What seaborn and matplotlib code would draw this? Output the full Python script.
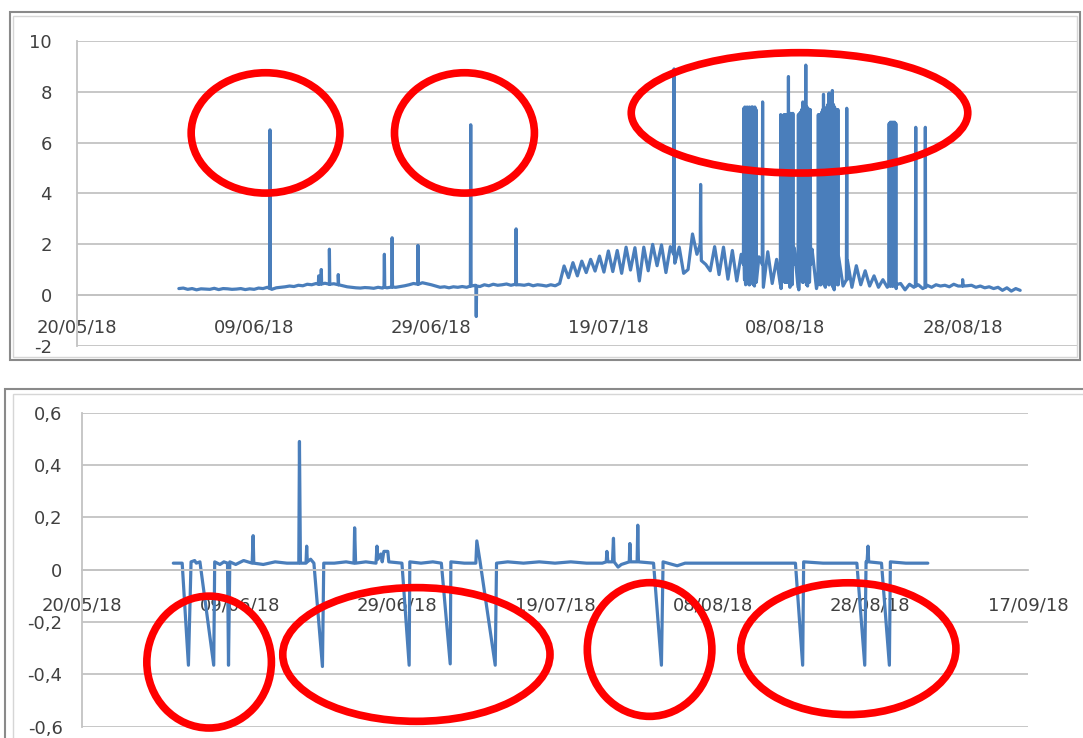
import pandas as pd
import matplotlib.pyplot as plt
import matplotlib.dates as mdates
from matplotlib.patches import Ellipse, Rectangle
import seaborn as sns

# ---- top chart: readings every 12 h, starting 31/05/18 12:00 ----
top_start = "2018-05-31 12:00"
top_jun = [0.25,
           0.27, 0.22, 0.25, 0.20, 0.24, 0.23, 0.22, 0.26, 0.21, 0.25,   # 01-05/06
           0.24, 0.22, 0.23, 0.25, 0.21, 0.24, 0.22, 0.27, 0.25, 0.30,   # 06-10/06
           0.22, 0.28, 0.30, 0.32, 0.35, 0.33, 0.38, 0.36, 0.42, 0.40,   # 11-15/06
           0.45, 0.43, 0.46, 0.42, 0.44, 0.40, 0.36, 0.32, 0.30, 0.28,   # 16-20/06
           0.27, 0.29, 0.28, 0.26, 0.30, 0.27, 0.28, 0.31, 0.30, 0.33,   # 21-25/06
           0.36, 0.40, 0.45, 0.42, 0.48, 0.44, 0.40, 0.35, 0.30, 0.32]   # 26-30/06
top_jul = [0.28, 0.32, 0.30, 0.33, 0.30, 0.35, 0.38, 0.33, 0.40, 0.36,   # 01-05/07
           0.42, 0.38, 0.40, 0.43, 0.38, 0.42, 0.40, 0.38, 0.42, 0.36,   # 06-10/07
           0.40, 0.38, 0.35, 0.40, 0.36, 0.45, 1.14, 0.68, 1.27, 0.75,   # 11-15/07
           1.33, 0.88, 1.40, 0.94, 1.53, 0.90, 1.73, 0.92, 1.75, 0.85,   # 16-20/07
           1.88, 0.98, 1.86, 0.55, 1.88, 0.95, 1.99, 1.15, 1.97, 0.88,   # 21-25/07
           1.90, 1.25, 1.88, 0.85, 1.00, 2.40, 1.60, 1.35, 1.20, 0.95,   # 26-30/07
           1.90, 0.80]                                                   # 31/07
top_aug = [1.88, 0.62, 1.75, 0.55, 1.60, 0.40, 1.30, 0.35, 1.50, 0.30,   # 01-05/08
           1.70, 0.45, 1.40, 0.25, 1.95, 0.30, 1.85, 0.20, 1.90, 0.35,   # 06-10/08
           1.80, 0.25, 1.75, 0.30, 1.60, 0.20, 1.50, 0.35, 1.35, 0.30,   # 11-15/08
           1.15, 0.40, 0.95, 0.35, 0.75, 0.30, 0.60, 0.30, 0.50, 0.25,   # 16-20/08
           0.45, 0.20, 0.42, 0.30, 0.40, 0.25, 0.38, 0.30, 0.40, 0.35,   # 21-25/08
           0.38, 0.32, 0.42, 0.35, 0.40, 0.36, 0.38, 0.30, 0.35, 0.28,   # 26-30/08
           0.32, 0.25]                                                   # 31/08
top_sep = [0.30, 0.18, 0.28, 0.15, 0.25, 0.18]                           # 01-03/09

# short peaks between the 12 h readings: time, peak value, value around it
peak_times = ["2018-06-10 19:00", "2018-06-16 07:00", "2018-06-16 14:00", "2018-06-17 12:00",
              "2018-06-18 12:00", "2018-06-23 17:00", "2018-06-24 14:00", "2018-06-27 12:00",
              "2018-07-03 11:00", "2018-07-04 02:00", "2018-07-08 14:00", "2018-07-26 10:00",
              "2018-07-29 10:00",
              # 03-05/08
              "2018-08-03 07:00", "2018-08-03 10:00", "2018-08-03 13:00", "2018-08-03 16:00",
              "2018-08-03 19:00", "2018-08-03 22:00", "2018-08-04 01:00", "2018-08-04 04:00",
              "2018-08-04 07:00", "2018-08-04 10:00", "2018-08-04 13:00", "2018-08-04 16:00",
              "2018-08-05 10:00",
              # 07-08/08
              "2018-08-07 11:00", "2018-08-07 14:00", "2018-08-07 17:00", "2018-08-07 20:00",
              "2018-08-07 23:00", "2018-08-08 02:00", "2018-08-08 05:00", "2018-08-08 08:00",
              "2018-08-08 11:00", "2018-08-08 14:00", "2018-08-08 17:00", "2018-08-08 20:00",
              # 09-10/08
              "2018-08-09 11:00", "2018-08-09 14:00", "2018-08-09 17:00", "2018-08-09 20:00",
              "2018-08-09 23:00", "2018-08-10 02:00", "2018-08-10 07:00", "2018-08-10 10:00",
              "2018-08-10 13:00", "2018-08-10 16:00", "2018-08-10 19:00",
              # 11-14/08
              "2018-08-11 17:00", "2018-08-11 20:00", "2018-08-11 23:00", "2018-08-12 02:00",
              "2018-08-12 05:00", "2018-08-12 07:00", "2018-08-12 10:00", "2018-08-12 13:00",
              "2018-08-12 16:00", "2018-08-12 19:00", "2018-08-12 22:00", "2018-08-13 01:00",
              "2018-08-13 04:00", "2018-08-13 07:00", "2018-08-13 10:00", "2018-08-13 13:00",
              "2018-08-13 16:00", "2018-08-13 19:00", "2018-08-13 22:00", "2018-08-14 22:00",
              # 19-28/08
              "2018-08-19 17:00", "2018-08-19 20:00", "2018-08-19 23:00", "2018-08-20 02:00",
              "2018-08-20 05:00", "2018-08-20 08:00", "2018-08-20 11:00",
              "2018-08-22 17:00", "2018-08-23 19:00", "2018-08-28 00:00"]
peak_vals = [6.5, 0.75, 1.0, 1.8,
             0.8, 1.6, 2.25, 1.95,
             6.7, -0.85, 2.6, 8.9,
             4.35,
             7.35, 7.40, 7.35, 7.40,
             7.35, 7.40, 7.35, 7.40,
             7.40, 7.35, 7.40, 7.30,
             7.6,
             7.1, 7.05, 7.0, 7.1,
             7.1, 7.05, 7.1, 8.6,
             7.1, 7.15, 7.1, 7.15,
             7.1, 7.15, 7.2, 7.3,
             7.6, 7.4, 9.05, 7.4,
             7.35, 7.3, 7.3,
             7.1, 7.1, 7.0, 7.2,
             7.3, 7.9, 7.2, 7.3,
             7.4, 7.5, 7.95, 7.6,
             7.7, 8.05, 7.5, 7.4,
             7.3, 7.3, 7.3, 7.35,
             6.75, 6.8, 6.8, 6.8,
             6.8, 6.8, 6.75,
             6.6, 6.6, 0.6]
peak_base = [0.25, 0.42, 0.43, 0.42,
             0.40, 0.30, 0.31, 0.42,
             0.35, 0.35, 0.40, 1.60,
             2.00,
             1.2, 0.6, 1.4, 0.5,
             1.0, 0.4, 1.2, 0.5,
             1.3, 0.4, 1.0, 0.5,
             1.2,
             0.4, 1.5, 0.6, 1.3,
             0.5, 1.4, 0.5, 1.4,
             0.5, 1.2, 0.4, 1.2,
             0.3, 1.5, 0.6, 1.3,
             0.5, 1.4, 1.3, 0.4,
             1.4, 0.5, 1.2,
             0.5, 1.5, 0.4, 1.3,
             0.5, 1.4, 0.4, 1.3,
             0.5, 1.4, 0.4, 1.3,
             0.5, 1.4, 0.3, 1.2,
             0.5, 1.1, 0.4, 0.6,
             0.4, 0.35, 0.4, 0.35,
             0.4, 0.35, 0.4,
             0.35, 0.3, 0.35]

# ---- bottom chart: breakpoints of the signal ----
bot_times = ["2018-05-31 14:00", "2018-06-01 17:00", "2018-06-02 12:00", "2018-06-02 20:00",
             "2018-06-03 07:00", "2018-06-03 12:00", "2018-06-03 23:00", "2018-06-05 17:00",
             "2018-06-05 20:00", "2018-06-06 12:00", "2018-06-07 00:00", "2018-06-07 11:00",
             "2018-06-07 14:00", "2018-06-07 18:00", "2018-06-08 12:00", "2018-06-09 12:00",
             "2018-06-10 14:00", "2018-06-10 17:00", "2018-06-10 19:00", "2018-06-12 00:00",
             "2018-06-13 12:00", "2018-06-15 00:00", "2018-06-16 12:00", "2018-06-16 14:00",
             "2018-06-16 17:00", "2018-06-17 10:00", "2018-06-17 12:00", "2018-06-17 14:00",
             "2018-06-18 00:00", "2018-06-18 10:00", "2018-06-19 12:00", "2018-06-19 16:00",
             "2018-06-21 00:00", "2018-06-22 12:00", "2018-06-23 12:00", "2018-06-23 14:00",
             "2018-06-23 17:00", "2018-06-25 00:00", "2018-06-26 07:00", "2018-06-26 10:00",
             "2018-06-26 13:00", "2018-06-26 22:00", "2018-06-27 02:00", "2018-06-27 07:00",
             "2018-06-27 19:00", "2018-06-27 22:00", "2018-06-29 14:00", "2018-06-30 12:00",
             "2018-06-30 14:00", "2018-07-02 00:00", "2018-07-03 12:00", "2018-07-04 14:00",
             "2018-07-05 17:00", "2018-07-05 19:00", "2018-07-07 12:00", "2018-07-08 23:00",
             "2018-07-09 02:00", "2018-07-09 12:00", "2018-07-11 10:00", "2018-07-11 14:00",
             "2018-07-13 00:00", "2018-07-15 00:00", "2018-07-17 00:00", "2018-07-19 00:00",
             "2018-07-21 00:00", "2018-07-23 00:00", "2018-07-25 00:00", "2018-07-25 12:00",
             "2018-07-25 14:00", "2018-07-25 17:00", "2018-07-26 07:00", "2018-07-26 10:00",
             "2018-07-26 12:00", "2018-07-27 00:00", "2018-07-27 10:00", "2018-07-28 10:00",
             "2018-07-28 12:00", "2018-07-28 14:00", "2018-07-29 10:00", "2018-07-29 12:00",
             "2018-07-29 14:00", "2018-07-31 12:00", "2018-08-01 12:00", "2018-08-01 17:00",
             "2018-08-03 12:00", "2018-08-04 12:00", "2018-08-06 00:00", "2018-08-08 00:00",
             "2018-08-11 00:00", "2018-08-14 00:00", "2018-08-16 00:00", "2018-08-18 12:00",
             "2018-08-19 10:00", "2018-08-19 13:00", "2018-08-22 00:00", "2018-08-24 00:00",
             "2018-08-26 07:00", "2018-08-27 07:00", "2018-08-27 11:00", "2018-08-27 14:00",
             "2018-08-27 17:00", "2018-08-27 19:00", "2018-08-29 10:00", "2018-08-30 10:00",
             "2018-08-30 13:00", "2018-09-01 12:00", "2018-09-04 07:00"]
bot_vals = [0.025, 0.025, -0.365, 0.03,
            0.035, 0.025, 0.03, -0.365,
            0.03, 0.02, 0.03, 0.025,
            -0.365, 0.03, 0.02, 0.035,
            0.025, 0.13, 0.025, 0.02,
            0.03, 0.025, 0.025, 0.49,
            0.025, 0.025, 0.09, 0.03,
            0.04, 0.025, -0.37, 0.025,
            0.025, 0.03, 0.025, 0.16,
            0.025, 0.03, 0.025, 0.09,
            0.04, 0.06, 0.03, 0.07,
            0.07, 0.03, 0.025, -0.365,
            0.03, 0.025, 0.03, 0.025,
            -0.36, 0.03, 0.025, 0.025,
            0.11, 0.03, -0.365, 0.025,
            0.03, 0.025, 0.03, 0.025,
            0.03, 0.025, 0.025, 0.03,
            0.07, 0.03, 0.03, 0.12,
            0.03, 0.01, 0.02, 0.03,
            0.10, 0.03, 0.03, 0.17,
            0.03, 0.025, -0.365, 0.03,
            0.015, 0.025, 0.025, 0.025,
            0.025, 0.025, 0.025, 0.025,
            -0.365, 0.03, 0.025, 0.025,
            0.025, -0.365, 0.03, 0.03,
            0.09, 0.03, 0.025, -0.365,
            0.03, 0.025, 0.025]

# axis ticks
top_dates = ["2018-05-20", "2018-06-09", "2018-06-29", "2018-07-19", "2018-08-08", "2018-08-28"]
bot_dates = top_dates + ["2018-09-17"]
top_yticks = [-2, 0, 2, 4, 6, 8, 10]
top_ylabels = ["-2", "0", "2", "4", "6", "8", "10"]
bot_yticks = [-0.6, -0.4, -0.2, 0, 0.2, 0.4, 0.6]
bot_ylabels = ["-0,6", "-0,4", "-0,2", "0", "0,2", "0,4", "0,6"]

# red marks: centre time, centre value, width (days), height (units)
top_marks = [("2018-06-10 07:00", 6.38, 16.8, 4.74),
             ("2018-07-02 18:00", 6.38, 15.8, 4.74),
             ("2018-08-09 14:00", 7.17, 38.0, 4.74)]
bot_marks = [("2018-06-05 03:00", -0.353, 15.8, 0.504),
             ("2018-07-01 10:00", -0.324, 33.9, 0.511),
             ("2018-07-31 00:00", -0.305, 15.8, 0.511),
             ("2018-08-25 05:00", -0.302, 27.3, 0.504)]

BLUE = "#4a7ebb"
GRID = "#c3c3c3"
TXT = "#404040"

sns.set_style("white")
plt.rcParams["font.family"] = ["DejaVu Sans"]

# build the top series: 12 h readings plus the short peaks
top_vals = top_jun + top_jul + top_aug + top_sep
base = pd.DataFrame({"time": pd.date_range(top_start, periods=len(top_vals), freq="12h"),
                     "value": top_vals})
pk = pd.to_datetime(peak_times)
hr = pd.Timedelta("1h")
peaks = pd.DataFrame({"time": list(pk - hr) + list(pk) + list(pk + hr),
                      "value": peak_base + peak_vals + peak_base})
top = pd.concat([base, peaks], ignore_index=True).sort_values("time", kind="stable")
bot = pd.DataFrame({"time": pd.to_datetime(bot_times), "value": bot_vals})

W, H = 1083, 738
fig = plt.figure(figsize=(W / 100, H / 100), dpi=100)

# chart frames (screenshot borders)
for (x0, y0, x1, y1, c, lw) in [(10, 12, 1080, 360, "#8a8a8a", 1.5),
                                (13, 16, 1077, 357, "#d6d6d6", 1.0),
                                (5, 389, 1100, 760, "#8a8a8a", 1.5),
                                (13, 394, 1100, 760, "#d6d6d6", 1.0)]:
    fig.patches.append(Rectangle((x0 / W, 1 - y1 / H), (x1 - x0) / W, (y1 - y0) / H,
                                 transform=fig.transFigure, fill=False, ec=c, lw=lw))

ax1 = fig.add_axes([77 / W, 1 - 345.7 / H, 1000 / W, (345.7 - 41) / H])
ax2 = fig.add_axes([82 / W, 1 - 726.7 / H, 946 / W, (726.7 - 412.7) / H])


def style(ax, dates, yticks, ylabels, xpad, ypad):
    ax.set_yticks(yticks)
    ax.set_yticklabels(ylabels)
    ax.set_ylim(yticks[0], yticks[-1])
    ax.set_xticks(pd.to_datetime(dates))
    ax.xaxis.set_major_formatter(mdates.DateFormatter("%d/%m/%y"))
    ax.grid(axis="y", color=GRID, lw=1.3)
    ax.grid(axis="x", visible=False)
    ax.set_axisbelow(True)
    ax.spines["top"].set_visible(False)
    ax.spines["right"].set_visible(False)
    ax.spines["bottom"].set_position(("data", 0))
    for s in ["bottom", "left"]:
        ax.spines[s].set_color(GRID)
        ax.spines[s].set_linewidth(1.3)
    ax.tick_params(axis="x", direction="out", length=6, width=1.2, color=GRID,
                   pad=xpad, labelsize=13, labelcolor=TXT)
    ax.tick_params(axis="y", direction="out", length=8, width=1.2, color=GRID,
                   pad=ypad, labelsize=13, labelcolor=TXT)
    ax.set_xlabel("")
    ax.set_ylabel("")


sns.lineplot(data=top, x="time", y="value", ax=ax1, color=BLUE, linewidth=2.3,
             estimator=None, sort=False)
ax1.set_xlim(pd.Timestamp("2018-05-20"), pd.Timestamp("2018-09-09 22:00"))
style(ax1, top_dates, top_yticks, top_ylabels, xpad=11, ypad=10)

sns.lineplot(data=bot, x="time", y="value", ax=ax2, color=BLUE, linewidth=2.3,
             estimator=None, sort=False)
ax2.set_xlim(pd.Timestamp("2018-05-20"), pd.Timestamp("2018-09-17"))
style(ax2, bot_dates, bot_yticks, bot_ylabels, xpad=13, ypad=6)

for ax, marks in [(ax1, top_marks), (ax2, bot_marks)]:
    for t, v, w, h in marks:
        ax.add_patch(Ellipse((mdates.date2num(pd.Timestamp(t)), v), w, h, fill=False,
                             ec="#ff0000", lw=5.5, zorder=5, clip_on=False))

fig.savefig("out.png", dpi=100, facecolor="white")
